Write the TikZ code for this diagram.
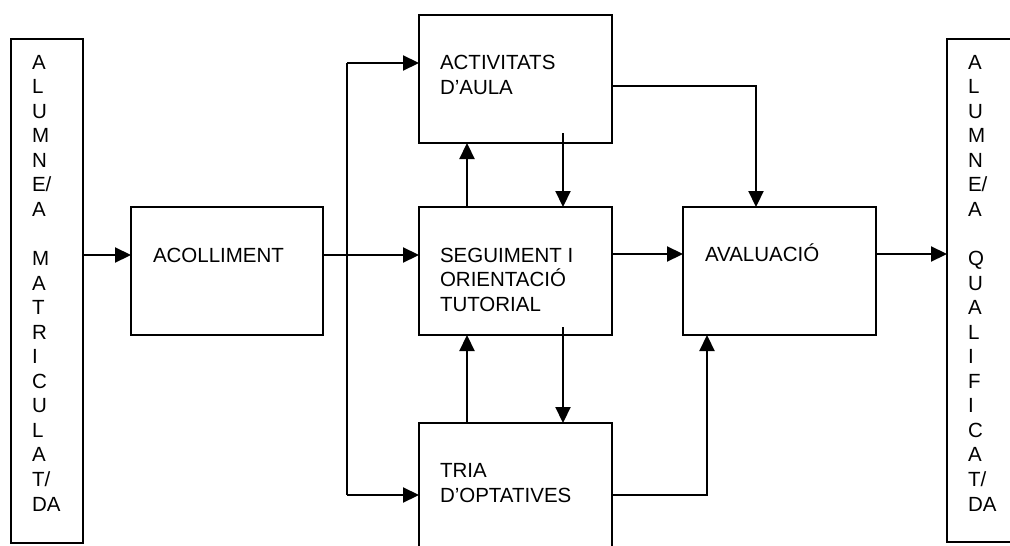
\documentclass[tikz,border=0pt]{standalone}
\usepackage{fontspec}
\setmainfont{Liberation Sans}
\usetikzlibrary{arrows.meta}
\tikzset{
  box/.style={draw, line width=2.2pt, inner sep=0pt, outer sep=0pt, anchor=north west},
  txt/.style={inner sep=0pt, outer sep=0pt, anchor=base west, align=left,
    font=\fontsize{20.5}{24.4}\selectfont},
  vtxt/.style={txt, font=\fontsize{20.5}{24.55}\selectfont},
  arr/.style={line width=2.2pt, -{Triangle[length=16pt,width=15pt]}},
  ln/.style={line width=2.2pt}
}
\begin{document}
\begin{tikzpicture}[x=1pt,y=-1pt]
\clip (0,0) rectangle (1010,546);
\fill[white] (0,0) rectangle (1010,546);
% boxes
\node[box, minimum width=72pt, minimum height=504pt] (lin) at (11,39) {};
\node[box, minimum width=70pt, minimum height=503pt] (lout) at (947,39) {};
\node[box, minimum width=192pt, minimum height=128pt] (acol) at (131,207) {};
\node[box, minimum width=193pt, minimum height=128pt] (act) at (419,15) {};
\node[box, minimum width=193pt, minimum height=128pt] (seg) at (419,207) {};
\node[box, minimum width=193pt, minimum height=140pt] (tria) at (419,423) {};
\node[box, minimum width=193pt, minimum height=128pt] (aval) at (683,207) {};
% texts (base = baseline of last line)
\node[vtxt] (lintxt) at (32,511) {A\\L\\U\\M\\N\\E/\\A\\~\\M\\A\\T\\R\\I\\C\\U\\L\\A\\T/\\DA};
\node[vtxt] (louttxt) at (968,511) {A\\L\\U\\M\\N\\E/\\A\\~\\Q\\U\\A\\L\\I\\F\\I\\C\\A\\T/\\DA};
\node[txt] (acoltxt) at (153,262) {ACOLLIMENT};
\node[txt] (acttxt) at (440,94) {ACTIVITATS\\D’AULA};
\node[txt] (segtxt) at (440,311) {SEGUIMENT I\\ORIENTACIÓ\\TUTORIAL};
\node[txt] (triatxt) at (440,502) {TRIA\\D’OPTATIVES};
\node[txt] (avaltxt) at (705,261) {AVALUACIÓ};
% connectors
\coordinate (br) at (347,255);
\draw[arr] (lin.east |- br) -- (acol.west |- br);
\draw[arr] (acol.east |- br) -- (seg.west |- br);
\draw[ln] (br |- 0,63) -- (br |- 0,495);
\draw[arr] (br |- 0,63) -- (act.west |- 0,63);
\draw[arr] (br |- 0,495) -- (tria.west |- 0,495);
% up arrows
\draw[arr] (seg.north -| 467,0) -- (act.south -| 467,0);
\draw[arr] (tria.north -| 467,0) -- (seg.south -| 467,0);
% down arrows
\coordinate (d1) at (563,133);
\coordinate (d2) at (563,327);
\draw[arr] (d1) -- (seg.north -| d1);
\draw[arr] (d2) -- (tria.north -| d2);
% to evaluation
\draw[arr] (act.east |- 0,86) -| (aval.north -| 756,0);
\draw[arr] (seg.east |- 0,254) -- (aval.west |- 0,254);
\draw[arr] (tria.east |- 0,495) -| (aval.south -| 707,0);
\draw[arr] (aval.east |- 0,254) -- (lout.west |- 0,254);
\end{tikzpicture}
\end{document}
